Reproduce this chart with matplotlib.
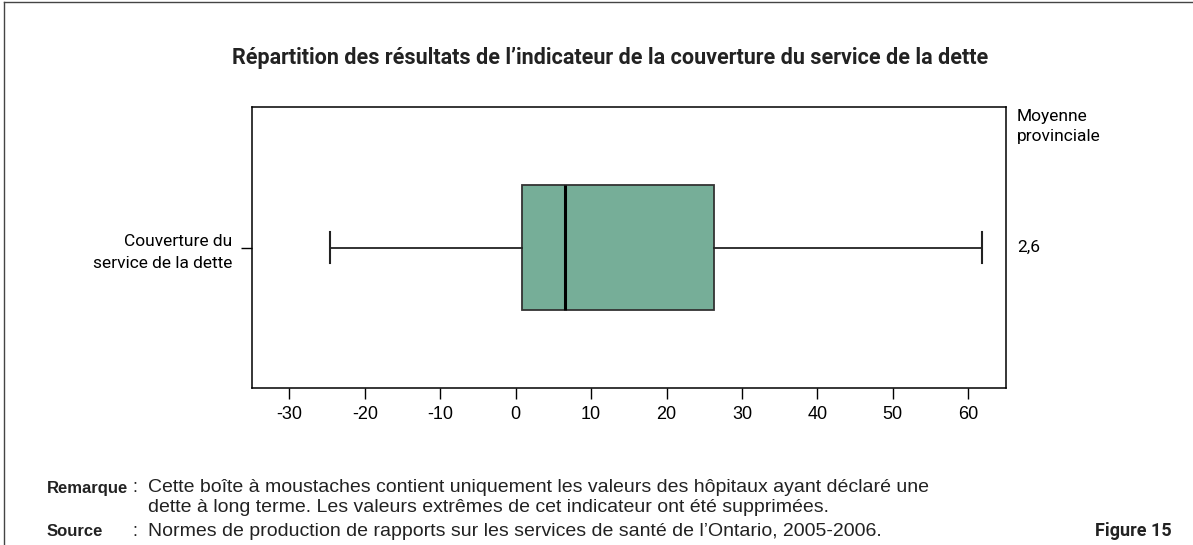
import matplotlib.pyplot as plt
from matplotlib.lines import Line2D

plt.rcParams['font.family'] = ['Roboto', 'DejaVu Sans']

# box plot summary
label = "Couverture du\nservice de la dette"
whisker_low = -24.6
q1 = 0.85
median = 6.6
q3 = 26.35
whisker_high = 61.8
provincial_mean = "2,6"
xticks = [-30, -20, -10, 0, 10, 20, 30, 40, 50, 60]

W, H = 1193, 545
fig = plt.figure(figsize=(W / 100, H / 100), dpi=100)
ax = fig.add_axes([251.7 / W, 1 - 388 / H, (1006 - 251.7) / W, (388 - 107) / H])

stats = [{
    "label": label, "whislo": whisker_low, "q1": q1, "med": median,
    "q3": q3, "whishi": whisker_high, "fliers": [],
}]
ax.bxp(stats, vert=False, widths=0.447, patch_artist=True, showfliers=False,
       boxprops=dict(facecolor="#76ae98", edgecolor="#333333", linewidth=1.3),
       medianprops=dict(color="black", linewidth=2.2),
       whiskerprops=dict(color="#222222", linewidth=1.3),
       capprops=dict(color="#222222", linewidth=1.5), capwidths=0.112)

ax.set_xlim(-35, 65)
ax.set_ylim(0.5, 1.5)
ax.set_xticks(xticks)
ax.set_xticklabels([str(t) for t in xticks], fontsize=13, family=['Liberation Sans', 'DejaVu Sans'])
ax.tick_params(axis="x", direction="out", length=8, width=1, pad=5)
ax.tick_params(axis="y", direction="out", length=8, width=1, pad=6)
for t in ax.get_yticklabels():
    t.set_fontsize(12.5)
    t.set_linespacing(1.55)
for s in ax.spines.values():
    s.set_linewidth(1.1)

ax.text(1.0145, 0.5, provincial_mean, transform=ax.transAxes, fontsize=12.5,
        ha="left", va="center")
ax.text(1.0145, 0.93, "Moyenne\nprovinciale", transform=ax.transAxes, fontsize=12.5,
        ha="left", va="center", linespacing=1.4)

fig.text(610 / W, 1 - 58 / H, "Répartition des résultats de l\u2019indicateur de la couverture du service de la dette",
         ha="center", va="center", fontsize=15.5, fontweight="bold", color="#222222")

foot = ['Liberation Sans', 'DejaVu Sans']
fig.text(47 / W, 1 - 488 / H, "Remarque", fontsize=12, fontweight="bold",
         family=foot, va="center", color="#222222")
fig.text(132 / W, 1 - 488 / H, ":", fontsize=13, family=foot, va="center", color="#222222")
fig.text(148 / W, 1 - 488 / H,
         "Cette boîte à moustaches contient uniquement les valeurs des hôpitaux ayant déclaré une",
         fontsize=14, family=foot, va="center", color="#222222")
fig.text(148 / W, 1 - 507 / H,
         "dette à long terme. Les valeurs extrêmes de cet indicateur ont été supprimées.",
         fontsize=14, family=foot, va="center", color="#222222")
fig.text(47 / W, 1 - 531 / H, "Source", fontsize=12, fontweight="bold",
         family=foot, va="center", color="#222222")
fig.text(132 / W, 1 - 531 / H, ":", fontsize=13, family=foot, va="center", color="#222222")
fig.text(148 / W, 1 - 531 / H,
         "Normes de production de rapports sur les services de santé de l\u2019Ontario, 2005-2006.",
         fontsize=14, family=foot, va="center", color="#222222")
fig.text(1172 / W, 1 - 531 / H, "Figure 15", fontsize=13, fontweight="bold",
         ha="right", va="center", color="#222222")

# page frame (top and left rules)
fig.add_artist(Line2D([4 / W, 4 / W], [0, 1 - 2 / H], transform=fig.transFigure,
                      color="#444444", linewidth=1))
fig.add_artist(Line2D([4 / W, 1], [1 - 2 / H, 1 - 2 / H], transform=fig.transFigure,
                      color="#444444", linewidth=1))

fig.savefig("out.png", dpi=100)
